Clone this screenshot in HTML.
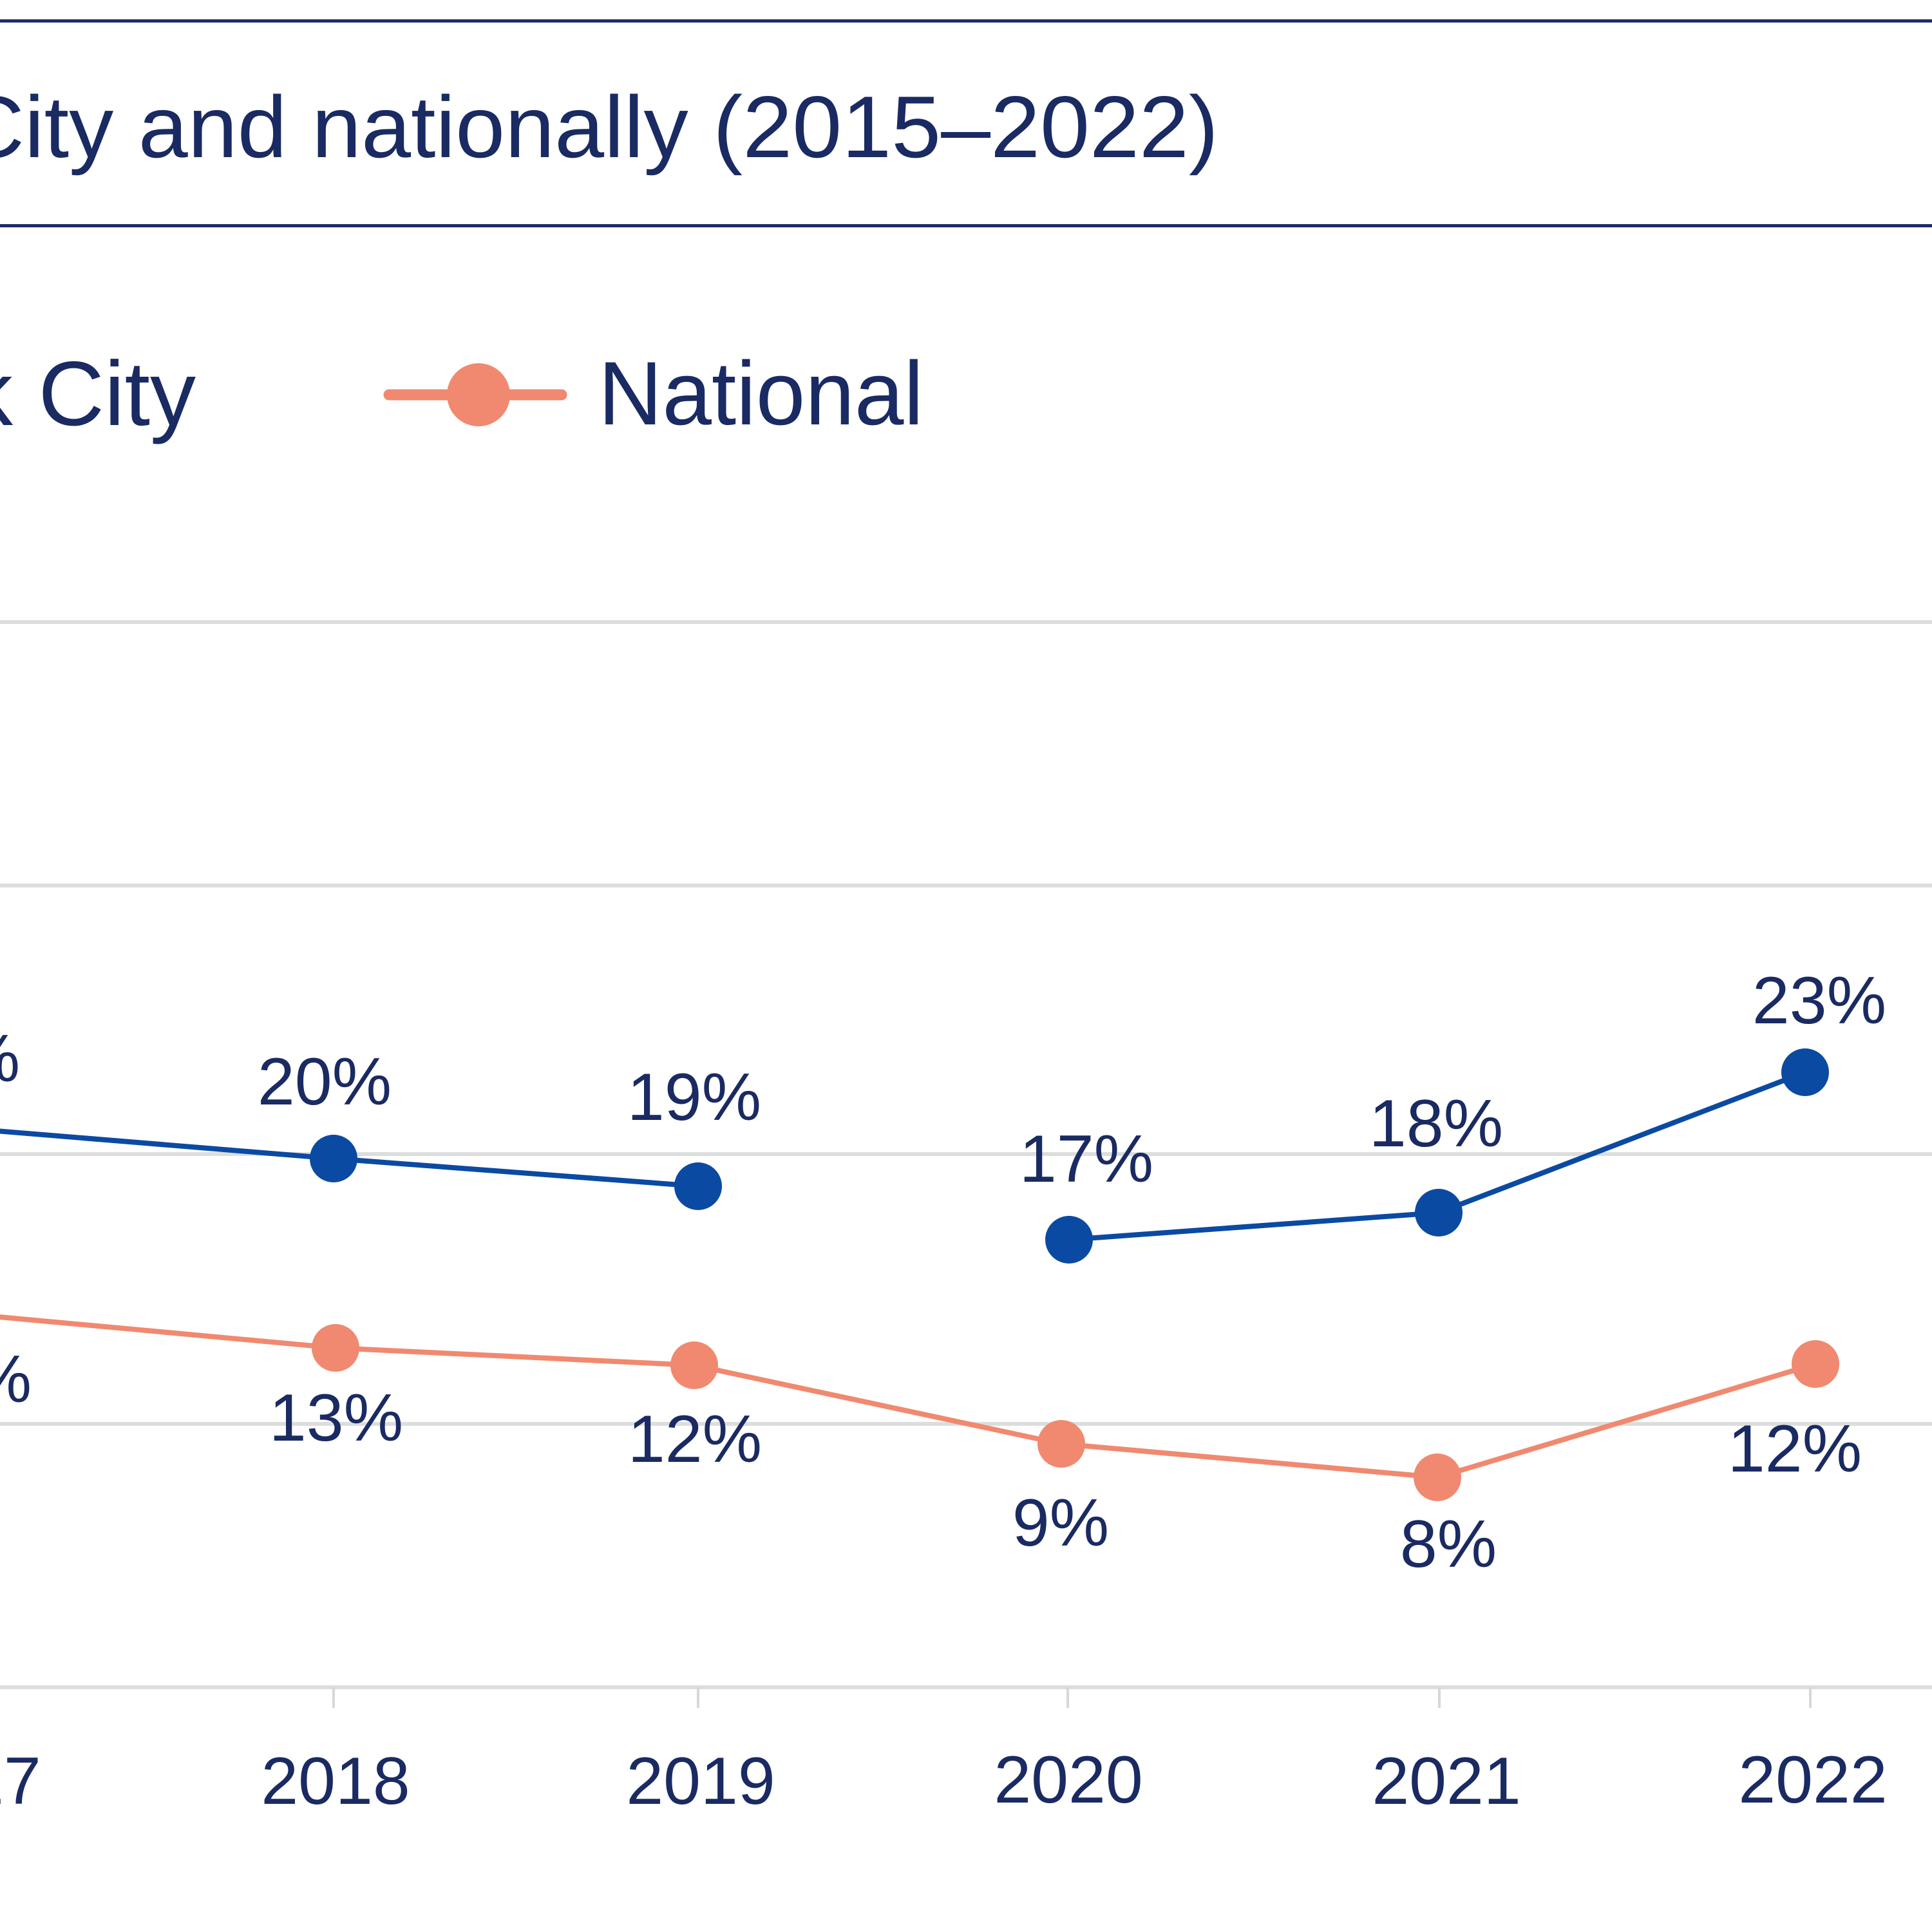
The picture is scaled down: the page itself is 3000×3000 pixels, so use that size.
<!DOCTYPE html>
<html>
<head>
<meta charset="utf-8">
<style>
  html, body { margin:0; padding:0; background:#ffffff; }
  body { width:3000px; height:3000px; overflow:hidden; }
  svg { display:block; }
  text { font-family: "Liberation Sans", Arial, sans-serif; fill:#1a2a62; }
</style>
</head>
<body>
<svg width="3000" height="3000" viewBox="0 0 3000 3000" xmlns="http://www.w3.org/2000/svg">
  <rect x="0" y="0" width="3000" height="3000" fill="#ffffff"/>

  <!-- title rules -->
  <rect x="0" y="30" width="3000" height="5" fill="#1f2c68"/>
  <rect x="0" y="348" width="3000" height="5" fill="#1f2c68"/>

  <!-- title -->
  <text x="-62" y="244" font-size="136" textLength="1954" lengthAdjust="spacingAndGlyphs">City and nationally (2015–2022)</text>

  <!-- legend -->
  <text x="304" y="660" font-size="142" text-anchor="end">New York City</text>
  <line x1="604" y1="613" x2="872" y2="613" stroke="#f0896f" stroke-width="17" stroke-linecap="round"/>
  <circle cx="743" cy="613" r="49" fill="#f0896f"/>
  <text x="929" y="659" font-size="140" textLength="505" lengthAdjust="spacingAndGlyphs">National</text>

  <!-- gridlines -->
  <g fill="#dcdddd">
    <rect x="0" y="963" width="3000" height="6"/>
    <rect x="0" y="1372" width="3000" height="6"/>
    <rect x="0" y="1789" width="3000" height="6"/>
    <rect x="0" y="2208" width="3000" height="6"/>
    <rect x="0" y="2617" width="3000" height="6"/>
  </g>
  <!-- ticks -->
  <g stroke="#d6d8d8" stroke-width="4">
    <line x1="-55" y1="2620" x2="-55" y2="2652"/>
    <line x1="518" y1="2620" x2="518" y2="2652"/>
    <line x1="1084" y1="2620" x2="1084" y2="2652"/>
    <line x1="1658" y1="2620" x2="1658" y2="2652"/>
    <line x1="2235" y1="2620" x2="2235" y2="2652"/>
    <line x1="2811" y1="2620" x2="2811" y2="2652"/>
  </g>

  <!-- National series -->
  <polyline points="-55,2040 521,2093 1078,2120 1648,2242 2232,2294 2819,2118" fill="none" stroke="#f0896f" stroke-width="8" stroke-linejoin="round"/>
  <g fill="#f0896f">
    <circle cx="521" cy="2093" r="37"/>
    <circle cx="1078" cy="2120" r="37"/>
    <circle cx="1648" cy="2242" r="37"/>
    <circle cx="2232" cy="2294" r="37"/>
    <circle cx="2819" cy="2118" r="37"/>
  </g>

  <!-- NYC series -->
  <polyline points="-55,1752 518,1799 1084,1842" fill="none" stroke="#0b4aa2" stroke-width="8" stroke-linejoin="round"/>
  <polyline points="1660,1925 2234,1883 2803,1665" fill="none" stroke="#0b4aa2" stroke-width="8" stroke-linejoin="round"/>
  <g fill="#0b4aa2">
    <circle cx="518" cy="1799" r="37"/>
    <circle cx="1084" cy="1842" r="37"/>
    <circle cx="1660" cy="1925" r="37"/>
    <circle cx="2234" cy="1883" r="37"/>
    <circle cx="2803" cy="1665" r="37"/>
  </g>

  <!-- data labels -->
  <g font-size="104" text-anchor="middle">
    <text x="-73" y="1679">21%</text>
    <text x="504" y="1715">20%</text>
    <text x="1078" y="1739">19%</text>
    <text x="1687" y="1835">17%</text>
    <text x="2230" y="1780">18%</text>
    <text x="2825" y="1589">23%</text>

    <text x="-55" y="2177">14%</text>
    <text x="522" y="2237">13%</text>
    <text x="1079" y="2270">12%</text>
    <text x="1647" y="2400">9%</text>
    <text x="2249" y="2433">8%</text>
    <text x="2787" y="2285">12%</text>
  </g>

  <!-- axis labels -->
  <g font-size="104" text-anchor="middle">
    <text x="-52" y="2801">2017</text>
    <text x="521" y="2801">2018</text>
    <text x="1088" y="2801">2019</text>
    <text x="1659" y="2799">2020</text>
    <text x="2246" y="2801">2021</text>
    <text x="2815" y="2799">2022</text>
  </g>
</svg>
</body>
</html>
